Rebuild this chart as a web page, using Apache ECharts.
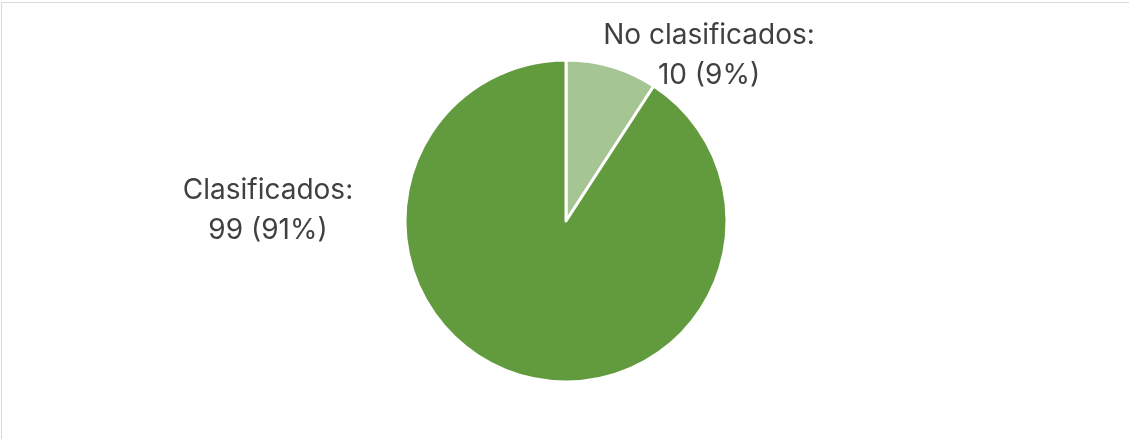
<!DOCTYPE html>
<html>
<head>
<meta charset="utf-8">
<script src="https://cdn.jsdelivr.net/npm/echarts@6/dist/echarts.min.js"></script>
<style>
html,body{margin:0;padding:0;background:#fff;}
#frame{position:absolute;left:1px;top:2px;width:1128px;height:437px;border-top:1px solid #d9d9d9;border-left:1px solid #d9d9d9;box-sizing:border-box;}
#chart{position:absolute;left:0;top:0;width:1129px;height:439px;}
</style>
</head>
<body>
<div id="frame"></div>
<div id="chart"></div>
<script>
const categories = ['No clasificados', 'Clasificados'];
const values = [10, 99];
const colors = ['#A5C593', '#629A3E'];

const labelPos = [
  {x: 709, y: 56},
  {x: 268, y: 211}
];

const chart = echarts.init(document.getElementById('chart'));
chart.setOption({
  backgroundColor: 'transparent',
  animation: false,
  series: [{
    type: 'pie',
    center: [566, 221],
    radius: [0, 161],
    startAngle: 90,
    clockwise: true,
    percentPrecision: 0,
    data: categories.map((c, i) => ({name: c, value: values[i], itemStyle: {color: colors[i]}})),
    itemStyle: {borderColor: '#ffffff', borderWidth: 3},
    label: {
      show: true,
      position: 'outside',
      formatter: '{b}:\n{c} ({d}%)',
      fontFamily: 'Inter',
      fontSize: 28,
      lineHeight: 40,
      color: '#404040',
      align: 'center'
    },
    labelLine: {show: false},
    labelLayout: function (params) {
      const p = labelPos[params.dataIndex];
      return {x: p.x, y: p.y, align: 'center', verticalAlign: 'middle'};
    },
    emphasis: {disabled: true}
  }]
});
</script>
</body>
</html>
